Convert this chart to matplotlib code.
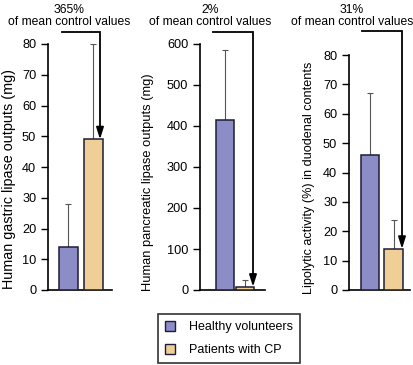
import numpy as np
import matplotlib
matplotlib.use("Agg")
import matplotlib.pyplot as plt
from matplotlib.patches import Patch

plt.rcParams['font.family'] = ['Liberation Sans', 'DejaVu Sans']

# data
groups = ['Healthy volunteers', 'Patients with CP']
colors = ['#8c8cc6', '#efcf95']

gastric = [14, 49]
gastric_err = [14, 31]
pancreatic = [415, 8]
pancreatic_err = [170, 17]
lipolytic = [46, 14]
lipolytic_err = [21, 10]

ylabels = ['Human gastric lipase outputs (mg)',
           'Human pancreatic lipase outputs (mg)',
           'Lipolytic activity (%) in duodenal contents']
pct = ['365%', '2%', '31%']
ticks = [np.arange(0, 81, 10), np.arange(0, 601, 100), np.arange(0, 81, 10)]
ymax = [80, 600, 80]

W, H = 414, 365

def box(l, r, top, bot):
    return [l / W, 1 - bot / H, (r - l) / W, (bot - top) / H]

fig = plt.figure(figsize=(W / 100, H / 100), dpi=100)

#%% panel layout in pixels
panels = [
    dict(rect=box(48, 112, 44, 290), width=0.76, xlim=(-0.82, 1.74),
         arr=(-0.26, 1.26, 83.9), lab=(9, 179), lsize=10.4, txt=69),
    dict(rect=box(200, 265, 44, 290), width=0.9, xlim=(-1.25, 2.0),
         arr=(-0.6, 1.4, 629), lab=(148, 182), lsize=9.3, txt=210),
    dict(rect=box(349, 410, 55, 290), width=0.8, xlim=(-0.89, 1.7),
         arr=(-0.34, 1.36, 88.2), lab=(309, 178), lsize=9.1, txt=352),
]
vals = [gastric, pancreatic, lipolytic]
errs = [gastric_err, pancreatic_err, lipolytic_err]

for i, p in enumerate(panels):
    ax = fig.add_axes(p['rect'])
    x = np.arange(2)
    ax.bar(x, vals[i], p['width'], color=colors, edgecolor='#1c1c38', lw=1.1, zorder=3)
    ax.errorbar(x, vals[i], yerr=[[0, 0], errs[i]], fmt='none', ecolor='#555555',
                elinewidth=0.8, capsize=2.5, capthick=0.8, zorder=2)
    ax.set_xlim(*p['xlim'])
    ax.set_ylim(0, ymax[i])
    ax.set_yticks(ticks[i])
    ax.set_xticks([])
    for s in ['top', 'right']:
        ax.spines[s].set_visible(False)
    for s in ['left', 'bottom']:
        ax.spines[s].set_linewidth(1.2)
    ax.tick_params(axis='y', length=5, width=1, pad=3.5, labelsize=9.2)

    # arrow from healthy bar to CP bar
    x0, x1, ya = p['arr']
    ax.plot([x0, x1, x1], [ya, ya, vals[i][1] + ymax[i] * 0.035], color='black',
            lw=1.3, clip_on=False, solid_joinstyle='miter')
    ax.annotate('', xy=(x1, vals[i][1]), xytext=(x1, vals[i][1] + ymax[i] * 0.05),
                arrowprops=dict(arrowstyle='-|>,head_width=0.22,head_length=0.7',
                                color='black', lw=1.3, shrinkA=0, shrinkB=0),
                annotation_clip=False)

    lx, ly = p['lab']
    fig.text(lx / W, 1 - ly / H, ylabels[i], rotation=90, ha='center', va='center',
             fontsize=p['lsize'])
    fig.text(p['txt'] / W, 1 - 10 / H, pct[i], ha='center', va='center', fontsize=8.7)
    fig.text(p['txt'] / W, 1 - 22 / H, 'of mean control values', ha='center', va='center', fontsize=8.7)

handles = [Patch(facecolor=c, edgecolor='#1c1c38', lw=1) for c in colors]
leg = fig.legend(handles, groups, loc='lower left', bbox_to_anchor=(158 / W, 2 / H),
                 borderaxespad=0, fontsize=9, frameon=True, fancybox=False,
                 edgecolor='black', handlelength=0.8, handleheight=0.8, borderpad=0.55,
                 labelspacing=0.85, handletextpad=1.1)
leg.get_frame().set_linewidth(1.2)

fig.savefig('out.png', dpi=100)
